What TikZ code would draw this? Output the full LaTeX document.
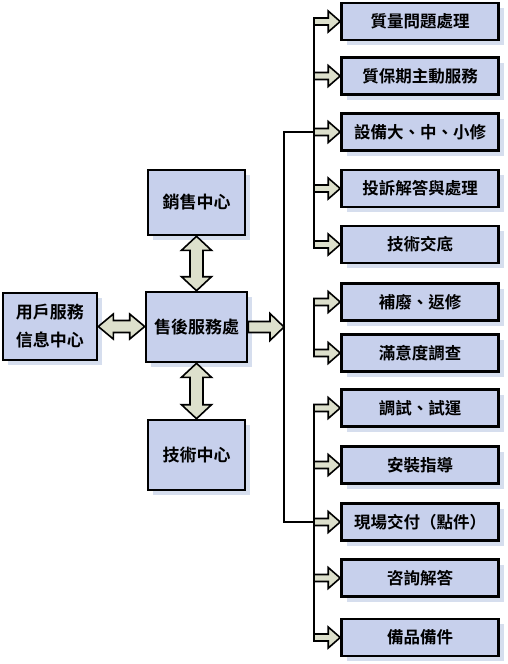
\documentclass[tikz,border=0pt]{standalone}
\usepackage{fontspec}
\newfontfamily\cjk{Noto Sans CJK TC}[BoldFont={Noto Sans CJK TC Bold}]
\usetikzlibrary{calc,shadows}
\definecolor{boxc}{RGB}{199,208,236}
\definecolor{arrc}{RGB}{221,224,204}
\definecolor{shadc}{RGB}{214,222,238}
\tikzset{
  box/.style={draw=black, line width=2.6pt, fill=boxc, inner sep=0pt,
    drop shadow={shadow xshift=5pt, shadow yshift=-5pt, fill=shadc, opacity=1},
    font=\cjk\bfseries\fontsize{16.5}{28}\selectfont, align=center},
  cbox/.style={box, font=\cjk\bfseries\fontsize{17}{28}\selectfont},
  rbox/.style={box, minimum width=157pt, minimum height=37pt},
  arr/.style={draw=black, line width=1.6pt, fill=arrc, line join=miter},
  bus/.style={draw=black, line width=2.2pt},
  busshadow/.style={draw=shadc, line width=2.2pt}
}
\newcommand\blkarrow[5]{%
  \path[arr] let \p1=(#1),\p2=(#2) in
   (\x1,\y2+#3) -- (\x2-#5,\y2+#3) -- (\x2-#5,\y2+#4) -- (\x2,\y2)
   -- (\x2-#5,\y2-#4) -- (\x2-#5,\y2-#3) -- (\x1,\y2-#3) -- cycle;}
\newcommand\dblvarrow[2]{%
  \path[arr] let \p1=(#1),\p2=(#2) in
   (\x1,\y1) -- (\x1+15pt,\y1-14pt) -- (\x1+6.5pt,\y1-14pt) -- (\x1+6.5pt,\y2+14pt)
   -- (\x1+15pt,\y2+14pt) -- (\x1,\y2) -- (\x1-15pt,\y2+14pt) -- (\x1-6.5pt,\y2+14pt)
   -- (\x1-6.5pt,\y1-14pt) -- (\x1-15pt,\y1-14pt) -- cycle;}
\newcommand\dblharrow[2]{%
  \path[arr] let \p1=(#1),\p2=(#2) in
   (\x1,\y1) -- (\x1+15pt,\y1+12.5pt) -- (\x1+15pt,\y1+6pt) -- (\x2-15pt,\y1+6pt)
   -- (\x2-15pt,\y1+12.5pt) -- (\x2,\y1) -- (\x2-15pt,\y1-12.5pt) -- (\x2-15pt,\y1-6pt)
   -- (\x1+15pt,\y1-6pt) -- (\x1+15pt,\y1-12.5pt) -- cycle;}
\begin{document}
\begin{tikzpicture}[x=1pt,y=-1pt]
\useasboundingbox (0,0) rectangle (507,664);
% centre boxes
\node[cbox, minimum width=97pt, minimum height=65pt] (sales) at (196.5,202.5) {銷售中心};
\node[cbox, minimum width=101pt, minimum height=70pt] (hub) at (196.5,327) {售後服務處};
\node[cbox, minimum width=94pt, minimum height=67pt] (user) at (50,326.5) {用戶服務\\信息中心};
\node[cbox, minimum width=97pt, minimum height=70pt] (tech) at (196.5,455) {技術中心};
% right boxes
\node[rbox] (r1) at (420,21.5) {質量問題處理};
\node[rbox] (r2) at (420,76) {質保期主動服務};
\node[rbox] (r3) at (420,132) {設備大、中、小修};
\node[rbox] (r4) at (420,188.5) {投訴解答與處理};
\node[rbox] (r5) at (420,244.5) {技術交底};
\node[rbox] (r6) at (420,302) {補廢、返修};
\node[rbox] (r7) at (420,353) {滿意度調查};
\node[rbox] (r8) at (420,408) {調試、試運};
\node[rbox] (r9) at (420,465) {安裝指導};
\node[rbox] (r10) at (420,522) {現場交付（點件）};
\node[rbox] (r11) at (420,578) {咨詢解答};
\node[rbox] (r12) at (420,637.5) {備品備件};
% buses
\coordinate (busx) at (314,0);
\coordinate (lbus) at (284,0);
\begin{scope}[xshift=5pt,yshift=-5pt]
\draw[busshadow] (busx |- r1.west) -- (busx |- r5.west);
\draw[busshadow] (busx |- r6.west) -- (busx |- r7.west);
\draw[busshadow] (busx |- r8.west) -- (busx |- r12.west);
\draw[busshadow] (busx |- r3.west) -- (lbus |- r3.west) -- (lbus |- r10.west) -- (busx |- r10.west);
\end{scope}
\draw[bus] (busx |- r1.west) -- (busx |- r5.west);
\draw[bus] (busx |- r6.west) -- (busx |- r7.west);
\draw[bus] (busx |- r8.west) -- (busx |- r12.west);
\draw[bus] (busx |- r3.west) -- (lbus |- r3.west) -- (lbus |- r10.west) -- (busx |- r10.west);
% right arrows
\foreach \r in {r1,r2,r3,r4,r5,r6,r7,r8,r9,r10,r11,r12}{
  \blkarrow{busx |- \r.west}{\r.west}{3.5pt}{10.5pt}{12pt}
}
% hub arrows
\blkarrow{hub.east}{lbus |- hub.east}{5.5pt}{13.5pt}{14pt}
\dblvarrow{sales.south}{hub.north}
\dblvarrow{hub.south}{tech.north}
\dblharrow{user.east}{hub.west}
\end{tikzpicture}
\end{document}
